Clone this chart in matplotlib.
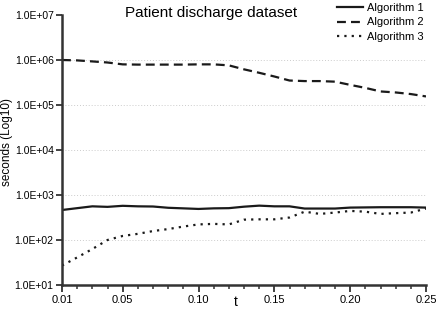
import matplotlib
matplotlib.use("Agg")
import matplotlib.pyplot as plt
from matplotlib.ticker import FixedLocator, FuncFormatter, NullLocator
import numpy as np

plt.rcParams['font.family'] = ['Liberation Sans', 'DejaVu Sans']

t = [0.01, 0.02, 0.03, 0.04, 0.05, 0.06, 0.07, 0.08, 0.09, 0.10, 0.11, 0.12, 0.13,
     0.14, 0.15, 0.16, 0.17, 0.18, 0.19, 0.20, 0.21, 0.22, 0.23, 0.24, 0.25]
alg1 = [464, 510, 560, 545, 575, 560, 555, 520, 505, 490, 505, 510, 550,
        580, 560, 560, 500, 500, 500, 525, 530, 535, 535, 535, 525]
alg2 = [1.0e6, 9.8e5, 9.3e5, 8.8e5, 8.0e5, 7.9e5, 7.9e5, 7.9e5, 7.9e5, 8.0e5, 8.0e5, 7.6e5, 6.2e5,
        5.2e5, 4.3e5, 3.5e5, 3.4e5, 3.4e5, 3.3e5, 2.8e5, 2.4e5, 2.0e5, 1.9e5, 1.75e5, 1.55e5]
alg3 = [27, 41, 63, 100, 123, 137, 158, 175, 199, 222, 228, 222, 283,
        288, 288, 316, 426, 380, 407, 443, 426, 380, 395, 407, 500]
series_names = ["Algorithm 1", "Algorithm 2", "Algorithm 3"]
x_major = [0.01, 0.05, 0.10, 0.15, 0.20, 0.25]
y_major = [1e1, 1e2, 1e3, 1e4, 1e5, 1e6, 1e7]

fig = plt.figure(figsize=(4.36, 3.10), dpi=100)
ax = fig.add_axes([62/436, 1-285/310, (426-62)/436, (285-15)/310])

col = '#1a1a1a'
ax.plot(t, alg1, color=col, lw=1.6, ls='-', label=series_names[0])
ax.plot(t, alg2, color=col, lw=1.6, ls=(0, (4, 2.3)), label=series_names[1])
ax.plot(t, alg3, color=col, lw=1.6, ls=(0, (1, 2.3)), label=series_names[2])

ax.set_yscale('log')
ax.set_ylim(1e1, 1e7)
ax.set_xlim(0.01, 0.25)
ax.yaxis.set_major_locator(FixedLocator(y_major))
ax.yaxis.set_minor_locator(NullLocator())
ax.yaxis.set_major_formatter(FuncFormatter(lambda v, p: "1.0E+%02d" % int(round(np.log10(v)))))
ax.xaxis.set_major_locator(FixedLocator(x_major))
ax.xaxis.set_minor_locator(FixedLocator(t))
ax.xaxis.set_major_formatter(FuncFormatter(lambda v, p: "%.2f" % v))

for yv in y_major[:-1]:
    ax.axhline(yv, color='#cccccc', lw=0.7, ls=(0, (1, 2)), zorder=0)

for s in ['top', 'right']:
    ax.spines[s].set_visible(False)
for s in ['left', 'bottom']:
    ax.spines[s].set_linewidth(1.8)
    ax.spines[s].set_color('#333333')

ax.tick_params(axis='both', which='major', direction='out', length=4, width=1.3,
               color='#333333', labelsize=7.5, pad=2)
ax.tick_params(axis='x', which='minor', direction='out', length=3, width=1.1, color='#333333')
ax.tick_params(axis='x', which='major', length=5, labelsize=8, pad=2.5)

fig.text(7/436, 1-142/310, "seconds (Log10)", rotation=90, ha='center', va='center', fontsize=8.5)
fig.text(236/436, 1-302/310, "t", ha='center', va='center', fontsize=10)

fig.text(0.483, 0.957, "Patient discharge dataset", ha='center', va='center', fontsize=11)

leg = ax.legend(loc='upper right', bbox_to_anchor=(1.005, 1.06), frameon=False, fontsize=8,
                handlelength=2.4, handletextpad=0.3, labelspacing=0.38, borderaxespad=0)

fig.savefig("out.png", dpi=100)
